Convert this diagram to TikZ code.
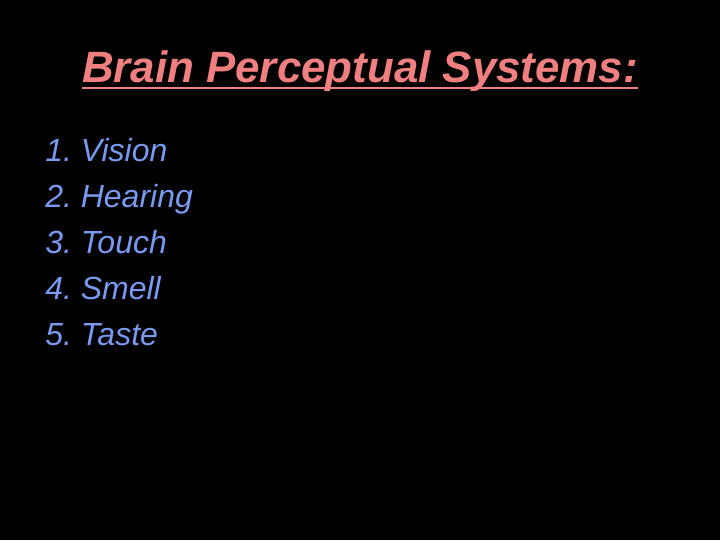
\documentclass[tikz,border=0pt]{standalone}
\usepackage{fontspec}
\setmainfont{Liberation Sans}
\usetikzlibrary{calc}
\definecolor{titlec}{RGB}{240,128,128}
\definecolor{listc}{RGB}{122,154,240}
\begin{document}
\begin{tikzpicture}[x=0.75pt,y=-0.75pt,
  item/.style={anchor=base west,inner sep=0pt,text=listc,font=\fontsize{24}{30}\selectfont\itshape}]
\fill[black] (0,0) rectangle (720,540);
\useasboundingbox (0,0) rectangle (720,540);
\node[anchor=base,inner sep=0pt,text=titlec,font=\fontsize{32.9}{38}\selectfont\bfseries\itshape] (title) at (360,82) {Brain Perceptual Systems:};
\draw[titlec,line width=1.5pt] ($(title.base west)+(0,6)$) -- ($(title.base east)+(0,6)$);
\node[item] (i1) at (45,161) {1.\ Vision};
\node[item] (i2) at (45,207) {2.\ Hearing};
\node[item] (i3) at (45,253) {3.\ Touch};
\node[item] (i4) at (45,299) {4.\ Smell};
\node[item] (i5) at (45,345) {5.\ Taste};
\end{tikzpicture}
\end{document}
